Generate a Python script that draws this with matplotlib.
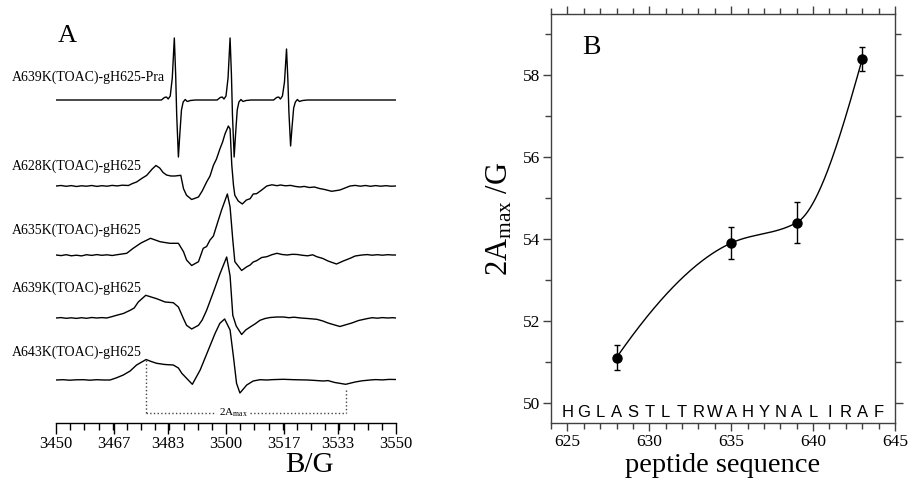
import numpy as np
import matplotlib
matplotlib.use('Agg')
import matplotlib.pyplot as plt

plt.rcParams['font.family'] = ['Liberation Serif', 'DejaVu Serif']
plt.rcParams['mathtext.fontset'] = 'custom'
plt.rcParams['mathtext.rm'] = 'Liberation Serif'
plt.rcParams['mathtext.it'] = 'Liberation Serif:italic'

# ---- panel A : EPR spectra (field in G, amplitude in arb. units) ----
pra_b = [3450, 3481.0, 3481.9, 3482.5, 3483.0, 3483.6, 3484.2, 3484.8, 3485.2, 3485.5, 3486.0,
         3486.4, 3486.9, 3487.4, 3488.0, 3488.6, 3489.5, 3491.0,
         3497.4, 3498.3, 3498.9, 3499.4, 3500.0, 3500.6, 3501.2, 3501.6, 3501.9, 3502.4,
         3502.8, 3503.3, 3503.8, 3504.4, 3505.0, 3505.9, 3507.4,
         3514.0, 3514.9, 3515.5, 3516.0, 3516.6, 3517.2, 3517.8, 3518.2, 3518.5, 3519.0,
         3519.4, 3519.9, 3520.4, 3521.0, 3521.6, 3522.5, 3524.0, 3550]
pra_y = [0, 0, 2.5, 3, 1, 4, 22, 62, 25, -15, -57,
         -35, -10, -2, 0.5, -1.5, -0.5, 0,
         0, 2.5, 3, 1, 4, 22, 62, 25, -15, -57,
         -35, -10, -2, 0.5, -1.5, -0.5, 0,
         0, 2.5, 3, 1, 4, 18, 51, 20, -12, -46,
         -28, -8, -2, 0.5, -1.5, -0.5, 0, 0]

k628_b = [3450, 3451.5, 3453, 3454.5, 3456, 3457.5, 3459, 3460.5, 3462, 3463.5, 3465, 3466.5,
          3468, 3469.5, 3471.3, 3472.5, 3473.7, 3475.2, 3476.7, 3478.3, 3479.4,
          3480.5, 3481.5, 3482.5, 3483.8, 3485.0, 3486.7, 3487.5, 3488.4, 3489.9, 3491.9,
          3493.0, 3494.3, 3495.3, 3496.3, 3497.2, 3498.2, 3499.0, 3499.7, 3500.7, 3501.2,
          3501.7, 3502.2, 3502.6, 3503.6, 3504.8, 3506.0, 3507.1, 3508.0, 3509.0, 3510.5,
          3512.0, 3513.5, 3515, 3516, 3517.5, 3519, 3520.5, 3521.8, 3523, 3524.5, 3526,
          3527.5, 3529, 3531.1, 3533.5, 3535, 3536.5, 3538, 3539.5, 3541, 3542.5, 3544,
          3545.5, 3547, 3548.5, 3550]
k628_y = [0, 0.5, -0.3, 0.4, -0.5, 0.2, -0.2, 0.5, -0.4, 0.3, -0.2, 0.6,
          0.1, 0.8, 0.5, 2.5, 4, 7.5, 10.7, 17, 20.5,
          18, 13.5, 11, 10, 10, 10.7, -2.7, -9.3, -13.5, -11,
          -5, 4, 10, 20.7, 27, 37, 44, 52, 60, 57,
          21, 0.7, -9.3, -15, -18, -14, -12.7, -8, -7.7, -4,
          0, 1.2, 0.3, 1.0, 0.2, 0.6, -0.5, -1, -0.4, -1.5, -1.0,
          -2.5, -3.5, -5.3, -4, -2.0, 0, 0.6, -0.2, 0.5, -0.3, 0.4,
          -0.2, 0.3, -0.2, 0]

k635_b = [3450, 3451.5, 3453, 3454.5, 3456, 3457.5, 3459, 3460.5, 3462, 3463.5, 3465, 3466.5,
          3468, 3470.8, 3472.7, 3475.0, 3477.8, 3479.2, 3480.6, 3482.0,
          3483.5, 3486.0, 3487.5, 3488.4, 3489.9, 3491.9, 3493.3, 3494.3, 3495.3, 3496.3, 3497.3,
          3498.7, 3500.4, 3501.2, 3502.0, 3502.6, 3504.6, 3506.0, 3507.1, 3508.0, 3509.0,
          3510.5, 3512.0, 3513.5, 3515.0, 3516.5, 3518, 3519.5, 3521.0, 3522.5, 3524, 3525.5,
          3526.7, 3528.5, 3530.0, 3532.5, 3534.5, 3536.5, 3538, 3540, 3541.5, 3543, 3544.5,
          3546, 3547.5, 3549, 3550]
k635_y = [0, -0.6, 0.3, -0.8, -0.2, -0.9, 0.3, -0.4, 0.4, -0.3, 0.2, -0.5,
          0.3, 1.7, 6.7, 12, 16.7, 15, 13.3, 12.5,
          11.7, 11.7, 3.3, -5, -10.5, -6.7, 6.7, 8.5, 15, 19, 30,
          45, 61, 48, 15, -6.7, -15.5, -12, -10, -7, -5.7,
          -2.5, -1.7, 0.3, 1.7, 0.5, 0, 0.7, 0.5, -0.3, -0.8, 0.2,
          -1.7, -3.5, -6, -9, -6, -3.3, -1, 0, 0.4, -0.2, 0.3,
          -0.2, 0.3, 0, 0]

k639_b = [3450, 3451.5, 3453, 3454.5, 3456, 3457.5, 3459, 3460.5, 3462, 3463.5, 3464.9,
          3466.3, 3467.8, 3469.8, 3471.8, 3473.0, 3474.2, 3476.4, 3478.0, 3479.6, 3482.1,
          3484.5, 3486.0, 3487.5, 3488.4, 3489.9, 3491.9, 3493.0, 3494.3, 3496.3, 3498.2, 3500.2,
          3501.2, 3502.0, 3503.0, 3504.6, 3505.8, 3507.1, 3508.5, 3510.0, 3511.5, 3513,
          3515, 3516.9, 3518.5, 3520, 3522.0, 3524, 3526.7, 3528.5, 3530.0,
          3533.5, 3537.0, 3539, 3541.4, 3543, 3544.5, 3546, 3547.5, 3549, 3550]
k639_y = [0, 0.4, -0.3, 0.2, -0.4, 0.3, -0.3, 0.5, 0, 0.4, 0,
          1.2, 2.7, 4.5, 7.7, 10, 16, 22.7, 21, 19.3, 16,
          15.3, 11, -0.7, -7.3, -11, -7.3, -2, 7.7, 26, 44, 61,
          42, 2.7, -8, -16.5, -12, -9, -6, -2.3, -0.5, 0.5,
          1.0, 1, 0.3, 0.8, 0, -0.5, -1.3, -3, -5,
          -8.5, -5, -2.5, -0.7, 0.3, -0.2, 0.4, 0, 0.3, 0]

k643_b = [3450, 3452, 3454, 3456, 3458, 3460, 3462, 3464, 3465.9, 3467.8, 3469.8, 3471.8,
          3473.7, 3476.5, 3478.0, 3479.6, 3482.0, 3484.5, 3486.0,
          3487.0, 3490.1, 3492.4, 3494.8, 3496.8, 3498.2, 3499.6, 3501.2, 3502.2, 3503.1,
          3504.1, 3506.1, 3508.0, 3510, 3512, 3514, 3516.9, 3520, 3524.0, 3526, 3528.6,
          3530, 3532.0, 3535.2, 3538.0, 3540, 3542.4, 3544, 3546, 3548, 3550]
k643_y = [0, 0.3, -0.2, 0.2, 0.3, -0.2, 0.3, 0, 0, 2.2, 5, 9,
          15, 20.5, 18.5, 16.7, 15.5, 15, 12,
          6.7, -4.3, 10, 30, 46.7, 56.7, 61, 50, 23, -3.3,
          -13, -5, -1, 0.3, 0, 0.4, 0.7, 0.3, 0, -0.4, -1,
          -0.6, -2.5, -4.3, -2, -0.8, 0, 0.4, 0.1, 0.6, 0.5]

spectra = [('A639K(TOAC)-gH625-Pra', pra_b, pra_y),
           ('A628K(TOAC)-gH625', k628_b, k628_y),
           ('A635K(TOAC)-gH625', k635_b, k635_y),
           ('A639K(TOAC)-gH625', k639_b, k639_y),
           ('A643K(TOAC)-gH625', k643_b, k643_y)]
offsets = [323, 237, 168, 105, 43]
label_y = [346, 257, 193, 135, 71]

field_ticks = [3450, 3467, 3483, 3500, 3517, 3533, 3550]
amax_left, amax_right = 3476.6, 3535.2

# ---- panel B : 2Amax vs residue ----
residue = [628, 635, 639, 643]
amax = [51.1, 53.9, 54.4, 58.4]
amax_err = [0.3, 0.4, 0.5, 0.3]
sequence = list('HGLASTLTRWAHYNALIRAF')
seq_pos = list(range(625, 645))


def pchip(x, y, xs):
    x = np.asarray(x, float)
    y = np.asarray(y, float)
    h = np.diff(x)
    delta = np.diff(y) / h
    d = np.zeros_like(y)
    for k in range(1, len(x) - 1):
        if delta[k - 1] * delta[k] > 0:
            w1 = 2 * h[k] + h[k - 1]
            w2 = h[k] + 2 * h[k - 1]
            d[k] = (w1 + w2) / (w1 / delta[k - 1] + w2 / delta[k])
    d[0] = ((2 * h[0] + h[1]) * delta[0] - h[0] * delta[1]) / (h[0] + h[1])
    d[-1] = ((2 * h[-1] + h[-2]) * delta[-1] - h[-1] * delta[-2]) / (h[-1] + h[-2])
    idx = np.clip(np.searchsorted(x, xs, side='right') - 1, 0, len(x) - 2)
    t = (xs - x[idx]) / h[idx]
    h00 = 2 * t**3 - 3 * t**2 + 1
    h10 = t**3 - 2 * t**2 + t
    h01 = -2 * t**3 + 3 * t**2
    h11 = t**3 - t**2
    return h00 * y[idx] + h10 * h[idx] * d[idx] + h01 * y[idx + 1] + h11 * h[idx] * d[idx + 1]


W, H = 908, 479
fig = plt.figure(figsize=(W / 100, H / 100), dpi=100)

# ---------------- panel A ----------------
axa = fig.add_axes([56 / W, 1 - 423 / H, 340 / W, 423 / H])
for (name, b, y), off, ly in zip(spectra, offsets, label_y):
    axa.plot(b, np.array(y) + off, color='black', lw=1.0)
    axa.text(3437.1, ly, name, fontsize=10, ha='left', va='center')

# 2Amax bracket
sp_y = np.interp(amax_left, k643_b, k643_y) + offsets[4]
axa.plot([amax_left, amax_left], [sp_y, 10.3], ls=':', color='#444444', lw=1)
axa.plot([amax_right, amax_right], [33, 10.3], ls=':', color='#444444', lw=1)
axa.plot([amax_left, 3497.2], [10.3, 10.3], ls=':', color='#444444', lw=1)
axa.plot([3507.1, amax_right], [10.3, 10.3], ls=':', color='#444444', lw=1)
axa.text(3502.2, 10.3, r'2A$_{\rm max}$', fontsize=8, ha='center', va='center')

axa.text(3450.6, 381, 'A', fontsize=19, ha='left', va='baseline')

axa.set_xlim(3450, 3550)
axa.set_ylim(0, 423)
for s in ['left', 'right', 'top']:
    axa.spines[s].set_visible(False)
axa.spines['bottom'].set_linewidth(1.0)
axa.set_yticks([])
axa.set_xticks(field_ticks)
axa.set_xticklabels([str(t) for t in field_ticks])
axa.set_xticks(np.linspace(3450, 3550, 25), minor=True)
axa.tick_params(which='major', direction='out', length=8, width=1, labelsize=12, pad=1.5)
axa.tick_params(which='minor', direction='out', length=5, width=1)
axa.set_xlabel('B/G', fontsize=21)
axa.xaxis.set_label_coords(0.747, -0.068)

# ---------------- panel B ----------------
axb = fig.add_axes([551 / W, 1 - 423 / H, 344 / W, 409 / H])
xs = np.linspace(residue[0], residue[-1], 300)
axb.plot(xs, pchip(residue, amax, xs), color='black', lw=1.0)
axb.errorbar(residue, amax, yerr=amax_err, fmt='o', color='black', ms=6.5,
             capsize=2.5, elinewidth=1, capthick=1)
for letter, pos in zip(sequence, seq_pos):
    axb.text(pos, 49.65, letter, fontsize=12, ha='center', va='baseline',
             family=['Liberation Sans', 'DejaVu Sans'])
axb.text(625.88, 58.51, 'B', fontsize=20, ha='left', va='baseline')

axb.set_xlim(624, 645)
axb.set_ylim(49.5, 59.5)
axb.set_xticks([625, 630, 635, 640, 645])
axb.set_xticks(range(624, 646), minor=True)
axb.set_yticks([50, 52, 54, 56, 58])
axb.set_yticks([51, 53, 55, 57, 59], minor=True)
for s in axb.spines.values():
    s.set_color('#404040')
    s.set_linewidth(1.0)
axb.tick_params(which='both', direction='out', top=True, right=True, colors='#404040',
                labelcolor='black', labelsize=12.5)
axb.tick_params(which='major', length=6, width=1, pad=2)
axb.tick_params(which='minor', length=4, width=1)
axb.set_xlabel('peptide sequence', fontsize=20.5, labelpad=2)
axb.set_ylabel(r'2A$_{\rm max}$ /G', fontsize=22, labelpad=6)

fig.savefig('out.png', dpi=100)
